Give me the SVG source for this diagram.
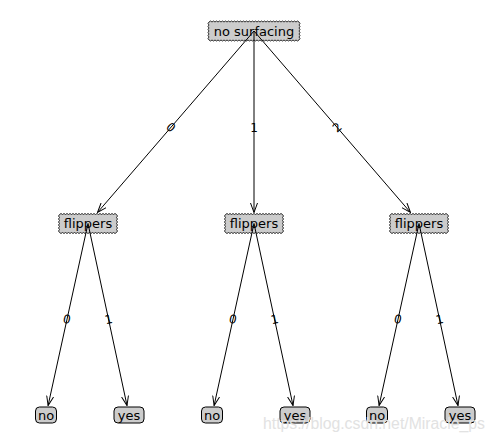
<svg xmlns="http://www.w3.org/2000/svg" xmlns:xlink="http://www.w3.org/1999/xlink" width="495" height="441" viewBox="0 0 495 441">
<style>
  .saw { fill: #cccccc; stroke: #000; stroke-width: 0.8; stroke-linejoin: miter; }
  .leaf { fill: #cccccc; stroke: #000; stroke-width: 1; }
  .t { font-family: "DejaVu Sans", sans-serif; font-size: 13px; fill: #000; text-anchor: middle; }
  .lbl { font-family: "DejaVu Sans", sans-serif; font-size: 12px; fill: #000; text-anchor: middle; }
  .edge { fill: none; stroke: #000; stroke-width: 1; marker-end: url(#ah); }
  .wm { font-family: "Liberation Sans", sans-serif; font-size: 16px; fill: #e2e2e2; }
</style>
<defs>
  <marker id="ah" viewBox="0 0 10 8" refX="9.5" refY="4" markerWidth="10" markerHeight="8" markerUnits="userSpaceOnUse" orient="auto">
    <path d="M0,0.5 L9.5,4 L0,7.5" fill="none" stroke="#000" stroke-width="1"/>
  </marker>
  <!-- 57 x 18 sawtooth box: 19 teeth horizontally, 6 vertically -->
  <path id="sawFlip" class="saw" d="M0,0 l
    1.5-1 1.5 1 1.5-1 1.5 1 1.5-1 1.5 1 1.5-1 1.5 1 1.5-1 1.5 1
    1.5-1 1.5 1 1.5-1 1.5 1 1.5-1 1.5 1 1.5-1 1.5 1 1.5-1 1.5 1
    1.5-1 1.5 1 1.5-1 1.5 1 1.5-1 1.5 1 1.5-1 1.5 1 1.5-1 1.5 1
    1.5-1 1.5 1 1.5-1 1.5 1 1.5-1 1.5 1 1.5-1 1.5 1
    1 1.5-1 1.5 1 1.5-1 1.5 1 1.5-1 1.5
    1 1.5-1 1.5 1 1.5-1 1.5 1 1.5-1 1.5
    -1.5 1-1.5-1 -1.5 1-1.5-1 -1.5 1-1.5-1 -1.5 1-1.5-1 -1.5 1-1.5-1
    -1.5 1-1.5-1 -1.5 1-1.5-1 -1.5 1-1.5-1 -1.5 1-1.5-1 -1.5 1-1.5-1
    -1.5 1-1.5-1 -1.5 1-1.5-1 -1.5 1-1.5-1 -1.5 1-1.5-1 -1.5 1-1.5-1
    -1.5 1-1.5-1 -1.5 1-1.5-1 -1.5 1-1.5-1 -1.5 1-1.5-1
    -1-1.5 1-1.5 -1-1.5 1-1.5 -1-1.5 1-1.5
    -1-1.5 1-1.5 -1-1.5 1-1.5 -1-1.5 1-1.5 Z"/>
</defs>
<rect width="495" height="441" fill="#fff"/>

<g id="nodes">
  <g id="root">
    <!-- 90 x 18 sawtooth box: 30 teeth horizontally, 6 vertically -->
    <path class="saw" d="M209,22 l
      1.5-1 1.5 1 1.5-1 1.5 1 1.5-1 1.5 1 1.5-1 1.5 1 1.5-1 1.5 1
      1.5-1 1.5 1 1.5-1 1.5 1 1.5-1 1.5 1 1.5-1 1.5 1 1.5-1 1.5 1
      1.5-1 1.5 1 1.5-1 1.5 1 1.5-1 1.5 1 1.5-1 1.5 1 1.5-1 1.5 1
      1.5-1 1.5 1 1.5-1 1.5 1 1.5-1 1.5 1 1.5-1 1.5 1 1.5-1 1.5 1
      1.5-1 1.5 1 1.5-1 1.5 1 1.5-1 1.5 1 1.5-1 1.5 1 1.5-1 1.5 1
      1.5-1 1.5 1 1.5-1 1.5 1 1.5-1 1.5 1 1.5-1 1.5 1 1.5-1 1.5 1
      1 1.5-1 1.5 1 1.5-1 1.5 1 1.5-1 1.5
      1 1.5-1 1.5 1 1.5-1 1.5 1 1.5-1 1.5
      -1.5 1-1.5-1 -1.5 1-1.5-1 -1.5 1-1.5-1 -1.5 1-1.5-1 -1.5 1-1.5-1
      -1.5 1-1.5-1 -1.5 1-1.5-1 -1.5 1-1.5-1 -1.5 1-1.5-1 -1.5 1-1.5-1
      -1.5 1-1.5-1 -1.5 1-1.5-1 -1.5 1-1.5-1 -1.5 1-1.5-1 -1.5 1-1.5-1
      -1.5 1-1.5-1 -1.5 1-1.5-1 -1.5 1-1.5-1 -1.5 1-1.5-1 -1.5 1-1.5-1
      -1.5 1-1.5-1 -1.5 1-1.5-1 -1.5 1-1.5-1 -1.5 1-1.5-1 -1.5 1-1.5-1
      -1.5 1-1.5-1 -1.5 1-1.5-1 -1.5 1-1.5-1 -1.5 1-1.5-1 -1.5 1-1.5-1
      -1-1.5 1-1.5 -1-1.5 1-1.5 -1-1.5 1-1.5
      -1-1.5 1-1.5 -1-1.5 1-1.5 -1-1.5 1-1.5 Z"/>
    <text class="t" x="254" y="35.5">no surfacing</text>
  </g>
  <g id="flip0">
    <use xlink:href="#sawFlip" href="#sawFlip" x="59.5" y="214.5"/>
    <text class="t" x="88" y="228">flippers</text>
  </g>
  <g id="flip1">
    <use xlink:href="#sawFlip" href="#sawFlip" x="225.5" y="214.5"/>
    <text class="t" x="254" y="228">flippers</text>
  </g>
  <g id="flip2">
    <use xlink:href="#sawFlip" href="#sawFlip" x="390.5" y="214.5"/>
    <text class="t" x="419" y="228">flippers</text>
  </g>
  <g id="leaf0">
    <rect class="leaf" x="35.5" y="407" width="21" height="16" rx="4"/>
    <text class="t" x="46" y="419.5">no</text>
  </g>
  <g id="leaf1">
    <rect class="leaf" x="114" y="407" width="30" height="16" rx="4"/>
    <text class="t" x="129" y="419.5">yes</text>
  </g>
  <g id="leaf2">
    <rect class="leaf" x="201.5" y="407" width="21" height="16" rx="4"/>
    <text class="t" x="212" y="419.5">no</text>
  </g>
  <g id="leaf3">
    <rect class="leaf" x="280" y="407" width="30" height="16" rx="4"/>
    <text class="t" x="295" y="419.5">yes</text>
  </g>
  <g id="leaf4">
    <rect class="leaf" x="366.5" y="407" width="21" height="16" rx="4"/>
    <text class="t" x="377" y="419.5">no</text>
  </g>
  <g id="leaf5">
    <rect class="leaf" x="445" y="407" width="30" height="16" rx="4"/>
    <text class="t" x="460" y="419.5">yes</text>
  </g>
</g>

<g id="connectors">
  <line class="edge" x1="254" y1="31" x2="97.5" y2="212.5"/>
  <line class="edge" x1="254" y1="31" x2="254" y2="212.5"/>
  <line class="edge" x1="254" y1="31" x2="410.5" y2="212.5"/>
  <line class="edge" x1="88" y1="223.5" x2="48.1" y2="405.5"/>
  <line class="edge" x1="88" y1="223.5" x2="127" y2="405.5"/>
  <line class="edge" x1="254" y1="223.5" x2="214.1" y2="405.5"/>
  <line class="edge" x1="254" y1="223.5" x2="293" y2="405.5"/>
  <line class="edge" x1="419" y1="223.5" x2="379.1" y2="405.5"/>
  <line class="edge" x1="419" y1="223.5" x2="458" y2="405.5"/>
  <g id="edge-labels">
    <text class="lbl" x="171" y="131.5" transform="rotate(41 171 127)">0</text>
    <text class="lbl" x="254" y="131.5">1</text>
    <text class="lbl" x="337" y="131.5" transform="rotate(-41 337 127)">2</text>
    <text class="lbl" x="67" y="323.5" transform="rotate(12 67 319)">0</text>
    <text class="lbl" x="108.5" y="323.5" transform="rotate(-12 108.5 319)">1</text>
    <text class="lbl" x="233" y="323.5" transform="rotate(12 233 319)">0</text>
    <text class="lbl" x="274.5" y="323.5" transform="rotate(-12 274.5 319)">1</text>
    <text class="lbl" x="398" y="323.5" transform="rotate(12 398 319)">0</text>
    <text class="lbl" x="439.5" y="323.5" transform="rotate(-12 439.5 319)">1</text>
  </g>
</g>

<text class="wm" x="263" y="429" textLength="222" lengthAdjust="spacingAndGlyphs">https://blog.csdn.net/Miracle_ps</text>
</svg>
